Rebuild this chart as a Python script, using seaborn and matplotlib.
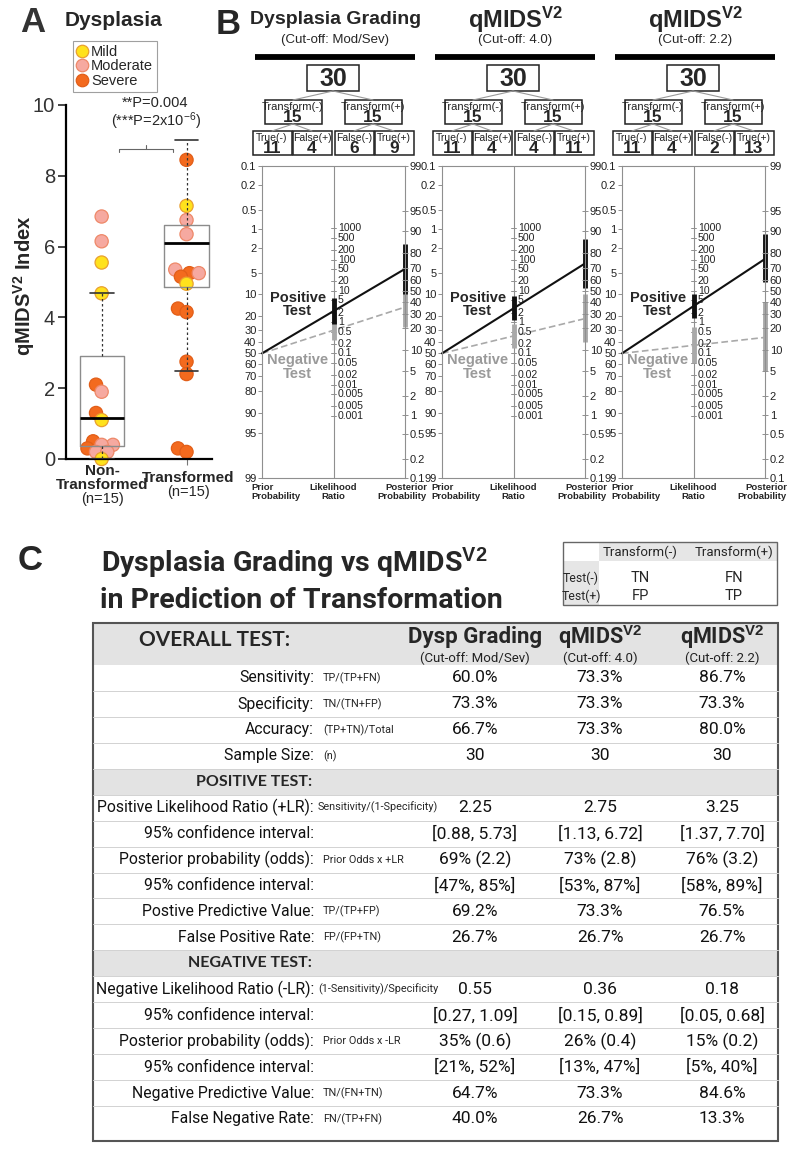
import numpy as np
import pandas as pd
import seaborn as sns
import matplotlib.pyplot as plt
from matplotlib import font_manager
from matplotlib.patches import Rectangle
from matplotlib.lines import Line2D
from matplotlib.colors import to_rgba

sns.set_style("white")
plt.rcParams['font.family'] = ['Liberation Sans', 'DejaVu Sans']
plt.rcParams['mathtext.fontset'] = 'custom'
plt.rcParams['mathtext.rm'] = 'Liberation Sans'
plt.rcParams['mathtext.it'] = 'Liberation Sans:italic'
plt.rcParams['mathtext.bf'] = 'Liberation Sans:bold'

installed = {f.name for f in font_manager.fontManager.ttflist}
NARROW = 'Roboto' if 'Roboto' in installed else 'Liberation Sans'
HEAD = 'Lato' if 'Lato' in installed else 'Liberation Sans'

# ---------------- panel A data ----------------
groups = ['Non-Transformed', 'Transformed']
non_trans_vals = [6.85, 6.15, 5.55, 4.68, 2.1, 1.9, 1.3, 1.1, 0.5, 0.4, 0.4, 0.3, 0.2, 0.2, 0.0]
non_trans_grade = ['Moderate', 'Moderate', 'Mild', 'Mild', 'Severe', 'Moderate', 'Severe', 'Mild',
                   'Severe', 'Moderate', 'Moderate', 'Severe', 'Moderate', 'Moderate', 'Mild']
trans_vals = [8.45, 7.15, 6.75, 6.35, 5.35, 5.25, 5.25, 5.15, 4.95, 4.25, 4.15, 2.75, 2.4, 0.3, 0.2]
trans_grade = ['Severe', 'Mild', 'Moderate', 'Moderate', 'Moderate', 'Severe', 'Moderate', 'Severe',
               'Mild', 'Severe', 'Severe', 'Severe', 'Severe', 'Severe', 'Severe']
# box summaries
box_whislo = [0.0, 2.5]
box_q1 = [0.38, 4.85]
box_med = [1.15, 6.1]
box_q3 = [2.92, 6.62]
box_whishi = [4.68, 9.0]
grade_colors = {'Mild': '#FFE21C', 'Moderate': '#F6A9A0', 'Severe': '#F36A1E'}
grade_edges = {'Mild': '#E9A030', 'Moderate': '#EE8868', 'Severe': '#E25E18'}

# ---------------- panel B data ----------------
panel_titles = ['Dysplasia Grading', r'qMIDS$^{\mathbf{V2}}$', r'qMIDS$^{\mathbf{V2}}$']
panel_cutoffs = ['(Cut-off: Mod/Sev)', '(Cut-off: 4.0)', '(Cut-off: 2.2)']
n_total = [30, 30, 30]
n_trans_neg = [15, 15, 15]
n_trans_pos = [15, 15, 15]
n_tn = [11, 11, 11]
n_fp = [4, 4, 4]
n_fn = [6, 4, 2]
n_tp = [9, 11, 13]
prior = 0.5
lr_pos = [2.25, 2.75, 3.25]
lr_pos_ci = [(0.88, 5.73), (1.13, 6.72), (1.37, 7.70)]
post_pos_ci = [(0.47, 0.85), (0.53, 0.87), (0.58, 0.89)]
lr_neg = [0.55, 0.36, 0.18]
lr_neg_ci = [(0.27, 1.09), (0.15, 0.89), (0.05, 0.68)]
post_neg_ci = [(0.21, 0.52), (0.13, 0.47), (0.05, 0.40)]
prob_ticks_left = [0.1, 0.2, 0.5, 1, 2, 5, 10, 20, 30, 40, 50, 60, 70, 80, 90, 95, 99]
prob_ticks_right = [99, 95, 90, 80, 70, 60, 50, 40, 30, 20, 10, 5, 2, 1, 0.5, 0.2, 0.1]
lr_ticks = [1000, 500, 200, 100, 50, 20, 10, 5, 2, 1, 0.5, 0.2, 0.1, 0.05, 0.02, 0.01, 0.005, 0.002, 0.001]
lr_tick_labels = ['1000', '500', '200', '100', '50', '20', '10', '5', '2', '1', '0.5', '0.2', '0.1',
                  '0.05', '0.02', '0.01', '0.005', '0.005', '0.001']

# ---------------- panel C data ----------------
row_labels = ['Sensitivity:', 'Specificity:', 'Accuracy:', 'Sample Size:', 'POSITIVE TEST:',
              'Positive Likelihood Ratio (+LR):', '95% confidence interval:', 'Posterior probability (odds):',
              '95% confidence interval:', 'Postive Predictive Value:', 'False Positive Rate:', 'NEGATIVE TEST:',
              'Negative Likelihood Ratio (-LR):', '95% confidence interval:', 'Posterior probability (odds):',
              '95% confidence interval:', 'Negative Predictive Value:', 'False Negative Rate:']
row_formulas = ['TP/(TP+FN)', 'TN/(TN+FP)', '(TP+TN)/Total', '(n)', '', 'Sensitivity/(1-Specificity)', '',
                'Prior Odds x +LR', '', 'TP/(TP+FP)', 'FP/(FP+TN)', '', '(1-Sensitivity)/Specificity', '',
                'Prior Odds x -LR', '', 'TN/(FN+TN)', 'FN/(TP+FN)']
col_dysp = ['60.0%', '73.3%', '66.7%', '30', '', '2.25', '[0.88, 5.73]', '69% (2.2)', '[47%, 85%]', '69.2%',
            '26.7%', '', '0.55', '[0.27, 1.09]', '35% (0.6)', '[21%, 52%]', '64.7%', '40.0%']
col_q40 = ['73.3%', '73.3%', '73.3%', '30', '', '2.75', '[1.13, 6.72]', '73% (2.8)', '[53%, 87%]', '73.3%',
           '26.7%', '', '0.36', '[0.15, 0.89]', '26% (0.4)', '[13%, 47%]', '73.3%', '26.7%']
col_q22 = ['86.7%', '73.3%', '80.0%', '30', '', '3.25', '[1.37, 7.70]', '76% (3.2)', '[58%, 89%]', '76.5%',
           '26.7%', '', '0.18', '[0.05, 0.68]', '15% (0.2)', '[5%, 40%]', '84.6%', '13.3%']
col_heads = ['Dysp Grading', r'qMIDS$^{\mathbf{V2}}$', r'qMIDS$^{\mathbf{V2}}$']
section_rows = ['POSITIVE TEST:', 'NEGATIVE TEST:']

W, H = 795, 1152
fig = plt.figure(figsize=(W / 100, H / 100), dpi=100)

def frac(x0, y0, x1, y1):
    return [x0 / W, 1 - y1 / H, (x1 - x0) / W, (y1 - y0) / H]

# overlay in pixel coordinates for labels, tree boxes and the table
ov = fig.add_axes([0, 0, 1, 1], zorder=0)
ov.set_xlim(0, W)
ov.set_ylim(H, 0)
ov.axis('off')

# ================= Panel A =================
axA = fig.add_axes(frac(66, 105, 212, 459), zorder=2)
stats = []
for i, g in enumerate(groups):
    stats.append(dict(label=g, whislo=box_whislo[i], q1=box_q1[i], med=box_med[i],
                      q3=box_q3[i], whishi=box_whishi[i]))
axA.bxp(stats, positions=[0, 1], widths=0.52, showfliers=False, manage_ticks=False,
        boxprops=dict(color='#8c8c8c', lw=1.0, zorder=3),
        medianprops=dict(color='black', lw=2.0, zorder=3),
        whiskerprops=dict(color='#333333', lw=0.9, ls=(0, (2, 2)), zorder=3),
        capprops=dict(color='#333333', lw=1.2, zorder=3), capwidths=0.28)

dfA = pd.DataFrame({
    'group': [groups[0]] * len(non_trans_vals) + [groups[1]] * len(trans_vals),
    'value': non_trans_vals + trans_vals,
    'grade': non_trans_grade + trans_grade,
})
sns.swarmplot(data=dfA, x='group', y='value', hue='grade', order=groups,
              palette=grade_colors, size=5.5, linewidth=0.9, legend=False, ax=axA, zorder=2)

axA.set_xlim(-0.42, 1.3)
axA.set_ylim(0, 10)
axA.set_yticks([0, 2, 4, 6, 8, 10])
axA.set_xticks([0, 1])
axA.set_xticklabels(['', ''])
axA.set_xlabel('')
axA.tick_params(axis='y', labelsize=14.5, labelcolor='#333333', length=6, width=1.2, pad=2, left=True)
axA.tick_params(axis='x', length=4, width=0.8, color='#777777', bottom=True)
for s in ['top', 'right']:
    axA.spines[s].set_visible(False)
for s in ['left', 'bottom']:
    axA.spines[s].set_color('black')
    axA.spines[s].set_linewidth(1.6)
axA.set_ylabel(r'qMIDS$^{\mathbf{V2}}$ Index', fontsize=14.5, fontweight='bold')
axA.yaxis.set_label_coords(-0.2, 0.49)

# lay out the swarm with compact markers (points overlap as in the original), then enlarge them
fig.canvas.draw()
edge_lookup = [(np.array(to_rgba(grade_colors[g])), grade_edges[g]) for g in grade_colors]
for c in axA.collections:
    if 'draw' in c.__dict__:
        del c.__dict__['draw']
    c.set_sizes([9.5 ** 2])
    c.set_clip_on(False)
    edges = []
    for fc in c.get_facecolors():
        edges.append(min(edge_lookup, key=lambda t: np.abs(t[0] - fc).sum())[1])
    c.set_edgecolors(edges)

# significance bracket
axA.plot([0.21, 0.21, 0.84, 0.84], [8.66, 8.77, 8.77, 8.66], color='#666666', lw=0.8, clip_on=False)
axA.plot([0.525, 0.525], [8.77, 8.86], color='#666666', lw=0.8, clip_on=False)
axA.text(0.63, 10.05, '**P=0.004', ha='center', va='center', fontsize=10.5, clip_on=False)
axA.text(0.64, 9.55, r'(***P=2x10$^{-6}$)', ha='center', va='center', fontsize=10.5, clip_on=False)

ov.text(102, 471, 'Non-', ha='center', va='center', fontsize=11, fontweight='bold')
ov.text(102, 485, 'Transformed', ha='center', va='center', fontsize=11, fontweight='bold')
ov.text(102, 499, '(n=15)', ha='center', va='center', fontsize=10.5)
ov.text(188, 478, 'Transformed', ha='center', va='center', fontsize=11, fontweight='bold')
ov.text(188, 492, '(n=15)', ha='center', va='center', fontsize=10.5)

ov.text(33, 22, 'A', ha='center', va='center', fontsize=25, fontweight='bold', color='#333333')
ov.text(114, 21, 'Dysplasia', ha='center', va='center', fontsize=15, fontweight='bold')
handles = [Line2D([], [], marker='o', ls='', markersize=9, markerfacecolor=grade_colors[g],
                  markeredgecolor=grade_edges[g], markeredgewidth=0.9) for g in grade_colors]
leg = fig.legend(handles, list(grade_colors), loc='upper left', bbox_to_anchor=(73 / W, 1 - 41 / H),
                 frameon=True, fancybox=False, fontsize=10.5, handlelength=0.8, handletextpad=0.2,
                 labelspacing=0.05, borderpad=0.25, borderaxespad=0)
leg.get_frame().set_edgecolor('#888888')
leg.get_frame().set_linewidth(0.8)

# ================= Panel B =================
ov.text(228, 24, 'B', ha='center', va='center', fontsize=25, fontweight='bold')

def logit(p):
    return np.log(p / (1 - p))

def left_u(p):
    return -logit(p)

def right_u(p):
    return logit(p) + np.log(10)

def mid_u(lr):
    return np.log(lr) / 2 + np.log(10) / 2

gray = '#8f8f8f'
for k in range(3):
    xL = 262 + 180 * k
    cx = xL + 71
    # title and tree
    ov.text(cx + 3, 20, panel_titles[k], ha='center', va='center',
            fontsize=14 if k == 0 else 17, fontweight='bold')
    ov.text(cx + 2, 40, panel_cutoffs[k], ha='center', va='center', fontsize=9.5)
    ov.plot([cx - 78, cx + 82], [57, 57], color='black', lw=4.2, solid_capstyle='butt')

    def box(xc, y0, w, h, top, bottom, topsize, botsize):
        ov.add_patch(Rectangle((xc - w / 2, y0), w, h, facecolor='white', edgecolor='#222222', lw=1.1))
        if top:
            ov.text(xc, y0 + 7, top, ha='center', va='center', fontsize=topsize, color='#222222')
            ov.text(xc, y0 + h - 6.5, bottom, ha='center', va='center', fontsize=botsize, fontweight='bold')
        else:
            ov.text(xc, y0 + h / 2 + 1, bottom, ha='center', va='center', fontsize=botsize, fontweight='bold')

    lc = '#9a9a9a'
    ov.plot([cx, cx - 40], [91, 100], color=lc, lw=0.8)
    ov.plot([cx, cx + 40], [91, 100], color=lc, lw=0.8)
    for px, kids in [(cx - 40, (cx - 61, cx - 21)), (cx + 40, (cx + 21, cx + 61))]:
        for kx in kids:
            ov.plot([px, kx], [124, 131], color=lc, lw=0.8)
    box(cx, 65, 52, 26, None, str(n_total[k]), 0, 18)
    box(cx - 40, 100, 57, 24, 'Transform(-)', str(n_trans_neg[k]), 8, 12.5)
    box(cx + 40, 100, 57, 24, 'Transform(+)', str(n_trans_pos[k]), 8, 12.5)
    for xc, lab, n in [(cx - 61, 'True(-)', n_tn[k]), (cx - 21, 'False(+)', n_fp[k]),
                       (cx + 21, 'False(-)', n_fn[k]), (cx + 61, 'True(+)', n_tp[k])]:
        box(xc, 131, 39, 24, lab, str(n), 7.5, 12.5)

    # nomogram
    ax = fig.add_axes(frac(xL, 166, xL + 143, 478), zorder=2)
    ax.set_xlim(0, 2)
    ax.set_ylim(-logit(0.99), -logit(0.001))
    ax.patch.set_alpha(0)
    for s in ax.spines.values():
        s.set_color(gray)
        s.set_linewidth(0.8)
    ax.axvline(1, color=gray, lw=0.8)
    ax.set_xticks([])
    ax.set_yticks([left_u(p / 100) for p in prob_ticks_left])
    ax.set_yticklabels([f'{p:g}' for p in prob_ticks_left])
    ax.tick_params(axis='y', left=True, direction='out', length=3, width=0.7, color=gray,
                   labelsize=8, labelcolor='#222222', pad=1)
    ax2 = ax.twinx()
    ax2.set_ylim(ax.get_ylim())
    for s in ax2.spines.values():
        s.set_visible(False)
    ax2.set_yticks([right_u(p / 100) for p in prob_ticks_right])
    ax2.set_yticklabels([f'{p:g}' for p in prob_ticks_right])
    ax2.tick_params(axis='y', right=True, direction='inout', length=5, width=0.7, color=gray,
                    labelsize=8, labelcolor='#222222', pad=1)
    for lr, lab in zip(lr_ticks, lr_tick_labels):
        u = mid_u(lr)
        ax.plot([0.96, 1.04], [u, u], color=gray, lw=0.7)
        ax.text(1.06, u, lab, ha='left', va='center', fontsize=7.6, color='#222222')

    # lines through prior, LR, posterior
    u0 = left_u(prior)
    ax.plot([0, 2], [u0, logit(prior) + np.log(lr_neg[k]) + np.log(10)], color='#a9a9a9',
            lw=1.2, ls=(0, (4, 2)), clip_on=False)
    ax.plot([0, 2], [u0, logit(prior) + np.log(lr_pos[k]) + np.log(10)], color='#111111',
            lw=1.5, clip_on=False)
    ax.plot([1, 1], [mid_u(lr_neg_ci[k][0]), mid_u(lr_neg_ci[k][1])], color='#a9a9a9', lw=3.5,
            solid_capstyle='butt')
    ax.plot([2, 2], [right_u(post_neg_ci[k][0]), right_u(post_neg_ci[k][1])], color='#a9a9a9',
            lw=3.5, solid_capstyle='butt', clip_on=False)
    ax.plot([1, 1], [mid_u(lr_pos_ci[k][0]), mid_u(lr_pos_ci[k][1])], color='#111111', lw=3.5,
            solid_capstyle='butt')
    ax.plot([2, 2], [right_u(post_pos_ci[k][0]), right_u(post_pos_ci[k][1])], color='#111111',
            lw=3.5, solid_capstyle='butt', clip_on=False)
    ax.text(0.5, 1.8, 'Positive\nTest', ha='center', va='center', fontsize=10.5, fontweight='bold',
            linespacing=0.95)
    ax.text(0.5, -0.5, 'Negative\nTest', ha='center', va='center', fontsize=10.5, fontweight='bold',
            color='#9a9a9a', linespacing=0.95)

    ov.text(xL - 11, 492, 'Prior\nProbability', ha='left', va='center', fontsize=6.8,
            fontweight='bold', linespacing=0.95)
    ov.text(cx, 492, 'Likelihood\nRatio', ha='center', va='center', fontsize=6.8,
            fontweight='bold', linespacing=0.95, multialignment='center')
    ov.text(xL + 165, 492, 'Posterior\nProbability', ha='right', va='center', fontsize=6.8,
            fontweight='bold', linespacing=0.95, multialignment='right')

# ================= Panel C =================
ov.text(30, 561, 'C', ha='center', va='center', fontsize=25, fontweight='bold')
ov.text(294, 563, r'Dysplasia Grading vs qMIDS$^{\mathbf{V2}}$', ha='center', va='center',
        fontsize=20.5, fontweight='bold', family=NARROW)
ov.text(301, 601, 'in Prediction of Transformation', ha='center', va='center',
        fontsize=20.5, fontweight='bold', family=NARROW)

# small key table
ov.add_patch(Rectangle((599, 542), 178, 19, facecolor='#e6e6e6', edgecolor='none'))
ov.add_patch(Rectangle((563, 561), 36, 44, facecolor='#e6e6e6', edgecolor='none'))
ov.add_patch(Rectangle((563, 542), 214, 63, facecolor='none', edgecolor='#666666', lw=1.0))
for xc, lab in [(640, 'Transform(-)'), (734, 'Transform(+)')]:
    ov.text(xc, 552, lab, ha='center', va='center', fontsize=9.5, family=NARROW)
for yc, lab, a, b in [(578, 'Test(-)', 'TN', 'FN'), (596, 'Test(+)', 'FP', 'TP')]:
    ov.text(581, yc, lab, ha='center', va='center', fontsize=8.8, family=NARROW)
    ov.text(640, yc, a, ha='center', va='center', fontsize=10.5, family=NARROW)
    ov.text(734, yc, b, ha='center', va='center', fontsize=10.5, family=NARROW)

# main table
tx0, tx1, ty0, ty1 = 93, 778, 623, 1141
head_bottom = 665
row_h = 25.94
ov.add_patch(Rectangle((tx0, ty0), tx1 - tx0, head_bottom - ty0, facecolor='#e3e3e3', edgecolor='none'))
value_x = [475, 600, 722]
ov.text(290, 640, 'OVERALL TEST:', ha='right', va='center', fontsize=15, fontweight='bold', family=HEAD)
for xc, head, sub in zip(value_x, col_heads, panel_cutoffs):
    ov.text(xc, 637, head, ha='center', va='center', fontsize=16 if head.startswith('D') else 15.5,
            fontweight='bold', family=NARROW)
    ov.text(xc, 658, sub, ha='center', va='center', fontsize=9.5, family=NARROW, color='#222222')

cols = [col_dysp, col_q40, col_q22]
for i, lab in enumerate(row_labels):
    y0 = head_bottom + i * row_h
    yc = y0 + row_h / 2
    if lab in section_rows:
        ov.add_patch(Rectangle((tx0, y0), tx1 - tx0, row_h, facecolor='#e3e3e3', edgecolor='none'))
        ov.text(312, yc, lab, ha='right', va='center', fontsize=11.5, fontweight='bold', family=HEAD)
    else:
        ov.text(314, yc, lab, ha='right', va='center', fontsize=11.3, family=NARROW, color='#111111')
    if i > 0:
        ov.plot([tx0, tx1], [y0, y0], color='#d2d2d2', lw=0.7)
    f = row_formulas[i]
    if f:
        ov.text(318 if len(f) > 20 else 323, yc, f, ha='left', va='center', fontsize=7.8, family=NARROW)
    for xc, col in zip(value_x, cols):
        if col[i]:
            ov.text(xc, yc, col[i], ha='center', va='center', fontsize=12.5, family=NARROW, color='#111111')
ov.add_patch(Rectangle((tx0, ty0), tx1 - tx0, ty1 - ty0, facecolor='none', edgecolor='#555555', lw=1.5))

fig.savefig('out.png', dpi=100)
